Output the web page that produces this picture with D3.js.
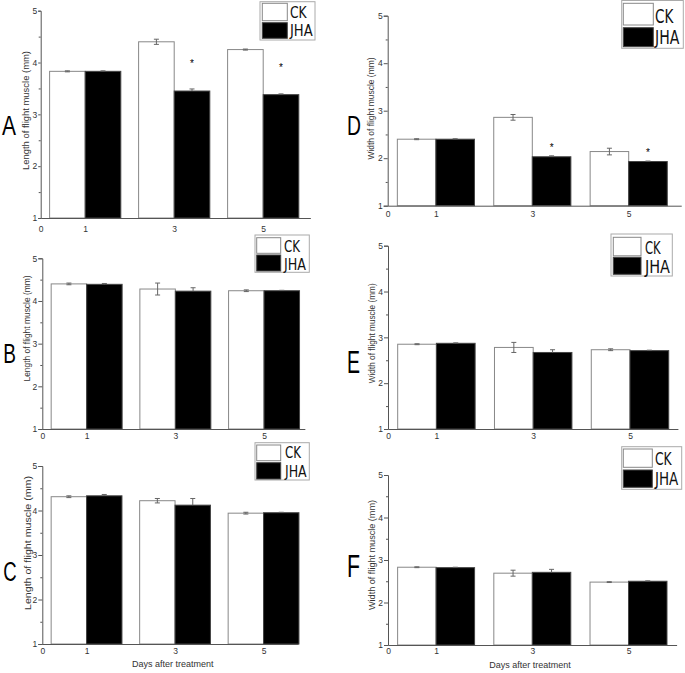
<!DOCTYPE html>
<html><head><meta charset="utf-8">
<script src="https://cdn.jsdelivr.net/npm/d3@7/dist/d3.min.js"></script>
<style>body{margin:0;background:#fff}svg{display:block}text{font-family:"Liberation Sans",Arial,sans-serif}</style>
</head><body><svg id="c" width="685" height="673"></svg>
<script>
// ---------- data ----------
const days = [1, 3, 5];
const seriesNames = ["CK", "JHA"];
const xTickLabels = [0, 1, 3, 5];
const yTickLabels = [1, 2, 3, 4, 5];
const yMinorTicks = [1.5, 2.5, 3.5, 4.5];
const xTitle = "Days after treatment";
const lengthTitle = "Length of flight muscle (mm)";
const widthTitle = "Width of flight muscle (mm)";

const A_CK = [3.83, 4.40, 4.25], A_CK_err = [0.01, 0.05, 0.01];
const A_JHA = [3.83, 3.45, 3.38], A_JHA_err = [0.01, 0.04, 0.015];
const A_sig = [false, true, true];
const B_CK = [4.40, 4.28, 4.24], B_CK_err = [0.02, 0.14, 0.02];
const B_JHA = [4.39, 4.23, 4.24], B_JHA_err = [0.02, 0.08, 0.01];
const B_sig = [false, false, false];
const C_CK = [4.31, 4.22, 3.94], C_CK_err = [0.02, 0.05, 0.02];
const C_JHA = [4.33, 4.12, 3.95], C_JHA_err = [0.03, 0.15, 0.01];
const C_sig = [false, false, false];
const D_CK = [2.40, 2.86, 2.14], D_CK_err = [0.01, 0.06, 0.07];
const D_JHA = [2.40, 2.03, 1.93], D_JHA_err = [0.01, 0.02, 0.01];
const D_sig = [false, true, true];
const E_CK = [2.85, 2.78, 2.73], E_CK_err = [0.01, 0.11, 0.02];
const E_JHA = [2.87, 2.67, 2.71], E_JHA_err = [0.01, 0.06, 0.01];
const E_sig = [false, false, false];
const F_CK = [2.83, 2.69, 2.48], F_CK_err = [0.01, 0.07, 0.01];
const F_JHA = [2.82, 2.71, 2.50], F_JHA_err = [0.01, 0.07, 0.01];
const F_sig = [false, false, false];

// ---------- layout ----------
const panels = [
  {id:"A", ck:A_CK, ckE:A_CK_err, jha:A_JHA, jhaE:A_JHA_err, sig:A_sig, title:lengthTitle, xt:false,
   x0:40.7, unit:44.5, xMax:6.06, yTop:10.7, yBot:218, xlY:229, tick:2.5,
   letter:{x:2, y:135, s:28, w:14}, yl:{x:26, y:110.5, len:119, s:9}, sigOff:28,
   leg:{bx:260, by:1.7, bw:55, bh:38.3, sx:262.3, sw:25, s1:[3.3,17.4], s2:[22.7,15.6], tx:290, t1:18.3, t2:36, l1:16.7, l2:22.7, fs:15}},
  {id:"B", ck:B_CK, ckE:B_CK_err, jha:B_JHA, jhaE:B_JHA_err, sig:B_sig, title:lengthTitle, xt:false,
   x0:42.3, unit:44.35, xMax:5.92, yTop:258.3, yBot:429, xlY:435.7, tick:4,
   letter:{x:3.3, y:362.7, s:27, w:12.7}, yl:{x:27, y:328.5, len:106, s:8.5}, sigOff:10,
   leg:{bx:255, by:235, bw:54.3, bh:37.3, sx:256.7, sw:24, s1:[237.7,15.6], s2:[255,16], tx:284, t1:251.7, t2:270, l1:16, l2:22, fs:16}},
  {id:"C", ck:C_CK, ckE:C_CK_err, jha:C_JHA, jhaE:C_JHA_err, sig:C_sig, title:lengthTitle, xt:true, xtX:172.7, xtY:667,
   x0:42.3, unit:44.25, xMax:5.78, yTop:466, yBot:644, xlY:650.7, tick:4,
   letter:{x:3.3, y:580.7, s:27, w:13.4}, yl:{x:28, y:543, len:134, s:9.5}, sigOff:10,
   leg:{bx:255, by:442.7, bw:54.3, bh:37.3, sx:256.7, sw:24, s1:[445,15.7], s2:[462.7,16.3], tx:285, t1:458.3, t2:476.7, l1:16, l2:21.7, fs:16}},
  {id:"D", ck:D_CK, ckE:D_CK_err, jha:D_JHA, jhaE:D_JHA_err, sig:D_sig, title:widthTitle, xt:false,
   x0:387.7, unit:48.2, xMax:6.09, yTop:15.7, yBot:205.7, xlY:214.3, tick:4,
   letter:{x:347, y:135, s:28, w:14}, yl:{x:371.5, y:108.5, len:102, s:8.5}, sigOff:9.5,
   leg:{bx:621.7, by:0.5, bw:61.6, bh:47.8, sx:623.3, sw:30, s1:[3.3,21.7], s2:[27.7,19], tx:655, t1:22.7, t2:44, l1:18.3, l2:24.3, fs:19}},
  {id:"E", ck:E_CK, ckE:E_CK_err, jha:E_JHA, jhaE:E_JHA_err, sig:E_sig, title:widthTitle, xt:false,
   x0:388, unit:48.4, xMax:5.99, yTop:245.7, yBot:429, xlY:435.7, tick:4,
   letter:{x:347, y:373, s:32, w:13}, yl:{x:372, y:333.3, len:100, s:8.5}, sigOff:10,
   leg:{bx:611, by:234, bw:61.3, bh:42, sx:613.3, sw:27.7, s1:[237.3,18.5], s2:[257.3,17], tx:645, t1:254, t2:273, l1:15.7, l2:25, fs:18}},
  {id:"F", ck:F_CK, ckE:F_CK_err, jha:F_JHA, jhaE:F_JHA_err, sig:F_sig, title:widthTitle, xt:true, xtX:530, xtY:668,
   x0:388, unit:48.1, xMax:6.0, yTop:475, yBot:645, xlY:650.7, tick:4,
   letter:{x:347, y:576.7, s:32, w:13}, yl:{x:372, y:555, len:110, s:9}, sigOff:10,
   leg:{bx:621.7, by:446.7, bw:60, bh:42.6, sx:623.3, sw:29, s1:[449,18.3], s2:[470,17.3], tx:655, t1:465, t2:485, l1:16.7, l2:23.3, fs:18}}
];

const barW = 0.8;
const svg = d3.select("#c");
svg.append("rect").attr("width",685).attr("height",673).attr("fill","#fff");
const axisColor = "#555", textColor = "#333";
const FONT = '"Liberation Sans",Arial,sans-serif';
const NARROW = '"Liberation Sans Narrow","DejaVu Sans Condensed","Liberation Sans",Arial,sans-serif';

panels.forEach(p => {
  const g = svg.append("g");
  const x = d3.scaleLinear().domain([0, p.xMax]).range([p.x0, p.x0 + p.xMax * p.unit]);
  const y = d3.scaleLinear().domain([1, 5]).range([p.yBot, p.yTop]);

  // bars
  const data = days.map((d, i) => ({d, ck:p.ck[i], ckE:p.ckE[i], jha:p.jha[i], jhaE:p.jhaE[i], sig:p.sig[i]}));
  g.selectAll(".ck").data(data).join("rect")
    .attr("x", d => x(d.d - barW)).attr("width", d => x(d.d) - x(d.d - barW))
    .attr("y", d => y(d.ck)).attr("height", d => y(1) - y(d.ck))
    .attr("fill", "#fff").attr("stroke", "#888").attr("stroke-width", 1);
  g.selectAll(".jha").data(data).join("rect")
    .attr("x", d => x(d.d)).attr("width", d => x(d.d + barW) - x(d.d))
    .attr("y", d => y(d.jha)).attr("height", d => y(1) - y(d.jha))
    .attr("fill", "#000").attr("stroke", "#444").attr("stroke-width", 1);

  // error bars
  const eb = (cx, v, e, lowerVisible) => {
    const lo = lowerVisible ? v - e : v;
    g.append("line").attr("x1",cx).attr("x2",cx).attr("y1",y(lo)).attr("y2",y(v+e)).attr("stroke","#666").attr("stroke-width",1);
    g.append("line").attr("x1",cx-2.5).attr("x2",cx+2.5).attr("y1",y(v+e)).attr("y2",y(v+e)).attr("stroke","#666").attr("stroke-width",1);
    if (lowerVisible) g.append("line").attr("x1",cx-2.5).attr("x2",cx+2.5).attr("y1",y(v-e)).attr("y2",y(v-e)).attr("stroke","#666").attr("stroke-width",1);
  };
  data.forEach(d => {
    eb(x(d.d - barW/2), d.ck, d.ckE, true);
    eb(x(d.d + barW/2), d.jha, d.jhaE, false);
    if (d.sig) {
      g.append("text").attr("x", x(d.d + barW/2)).attr("y", y(d.jha) - p.sigOff + 4)
        .attr("text-anchor","middle").attr("font-size",10).attr("fill","#000").text("*");
    }
  });

  // y axis
  const ya = g.append("g").attr("transform", `translate(${p.x0},0)`)
    .call(d3.axisLeft(y).tickValues(yTickLabels).tickSize(p.tick).tickPadding(1).tickFormat(d3.format("d")));
  ya.selectAll("text").attr("font-size", 8.5).attr("fill", textColor).style("font-family", FONT);
  ya.selectAll("line,path").attr("stroke", axisColor);
  const ym = g.append("g").attr("transform", `translate(${p.x0},0)`)
    .call(d3.axisLeft(y).tickValues(yMinorTicks).tickSize(2).tickFormat(""));
  ym.select("path").remove();
  ym.selectAll("line").attr("stroke", axisColor);

  // x axis
  const xa = g.append("g").attr("transform", `translate(0,${p.yBot})`)
    .call(d3.axisBottom(x).tickValues(xTickLabels).tickSize(0).tickPadding(0).tickFormat(d3.format("d")));
  xa.selectAll("path").attr("stroke", axisColor);
  xa.selectAll("text").attr("font-size", 8.5).attr("fill", textColor).attr("dy", null)
    .attr("y", p.xlY - p.yBot + 3).style("font-family", FONT);

  // y title
  g.append("text").attr("transform", `translate(${p.yl.x + p.yl.s*0.35},${p.yl.y}) rotate(-90)`)
    .attr("text-anchor","middle").attr("font-size", p.yl.s).attr("fill", textColor)
    .attr("textLength", p.yl.len).attr("lengthAdjust","spacingAndGlyphs").text(p.title);

  // x title
  if (p.xt) {
    g.append("text").attr("x", p.xtX).attr("y", p.xtY).attr("text-anchor","middle")
      .attr("font-size", 9).attr("fill", textColor).text(xTitle);
  }

  // panel letter
  g.append("text").attr("x", p.letter.x).attr("y", p.letter.y).attr("font-size", p.letter.s)
    .attr("fill","#000").attr("textLength", p.letter.w).attr("lengthAdjust","spacingAndGlyphs").text(p.id);

  // legend
  const L = p.leg;
  g.append("rect").attr("x",L.bx).attr("y",L.by).attr("width",L.bw).attr("height",L.bh)
    .attr("fill","#fff").attr("stroke","#aaa").attr("stroke-width",1);
  g.append("rect").attr("x",L.sx).attr("y",L.s1[0]).attr("width",L.sw).attr("height",L.s1[1])
    .attr("fill","#fff").attr("stroke","#888").attr("stroke-width",1);
  g.append("rect").attr("x",L.sx).attr("y",L.s2[0]).attr("width",L.sw).attr("height",L.s2[1])
    .attr("fill","#000").attr("stroke","#444").attr("stroke-width",1);
  g.append("text").attr("x",L.tx).attr("y",L.t1).attr("font-size",L.fs).attr("fill","#111")
    .style("font-family", NARROW)
    .attr("textLength",L.l1).attr("lengthAdjust","spacingAndGlyphs").text(seriesNames[0]);
  g.append("text").attr("x",L.tx).attr("y",L.t2).attr("font-size",L.fs).attr("fill","#111")
    .style("font-family", NARROW)
    .attr("textLength",L.l2).attr("lengthAdjust","spacingAndGlyphs").text(seriesNames[1]);
});
</script></body></html>
